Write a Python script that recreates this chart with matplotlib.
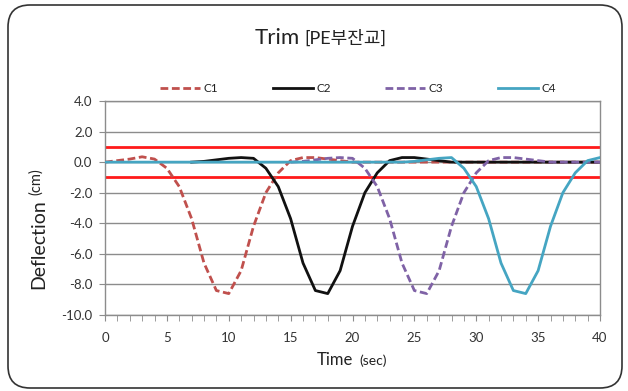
import matplotlib
matplotlib.use("Agg")
import matplotlib.pyplot as plt
from matplotlib.patches import FancyBboxPatch
import numpy as np

plt.rcParams['font.family'] = ['Lato', 'Noto Sans CJK KR', 'DejaVu Sans']

# ---- data ----
t_c1 = list(range(0, 41))
c1 = [0.0, 0.1, 0.2, 0.35, 0.2, -0.4, -1.6, -3.7, -6.6, -8.4, -8.6, -7.1, -4.2, -2.0, -0.7,
      0.1, 0.3, 0.3, 0.2, 0.1, 0.0, 0.0, 0.0, 0.0, 0.0, 0.0, 0.0, 0.0, 0.0, 0.0,
      0.0, 0.0, 0.0, 0.0, 0.0, 0.0, 0.0, 0.0, 0.0, 0.0, 0.0]
t_c2 = list(range(7, 41))
c2 = [0.0, 0.05, 0.15, 0.25, 0.3, 0.25, -0.4, -1.6, -3.7, -6.6, -8.4, -8.6, -7.1, -4.2, -2.0,
      -0.7, 0.1, 0.3, 0.3, 0.2, 0.1, 0.0, 0.0, 0.0, 0.0, 0.0, 0.0, 0.0, 0.0, 0.0,
      0.0, 0.0, 0.0, 0.0]
t_c3 = list(range(15, 41))
c3 = [0.0, 0.05, 0.15, 0.25, 0.3, 0.25, -0.4, -1.6, -3.7, -6.6, -8.4, -8.6, -7.1, -4.2, -2.0,
      -0.7, 0.1, 0.3, 0.3, 0.2, 0.1, 0.0, 0.0, 0.0, 0.0, 0.0]
t_c4 = list(range(0, 41))
c4 = [0.0] * 24 + [0.0, 0.05, 0.15, 0.25, 0.3, -0.4, -1.6, -3.7, -6.6, -8.4, -8.6, -7.1,
                   -4.2, -2.0, -0.7, 0.1, 0.3]
c4 = c4[:41]
limit_upper = 1.0
limit_lower = -1.0
series_names = ['C1', 'C2', 'C3', 'C4']

W, H = 628, 391
fig = plt.figure(figsize=(W / 100, H / 100), dpi=100)

# rounded outer frame
bg = fig.add_axes([0, 0, 1, 1])
bg.set_xlim(0, W)
bg.set_ylim(H, 0)
bg.axis('off')
bg.add_patch(FancyBboxPatch((8, 5), 614, 383, boxstyle="round,pad=0,rounding_size=22",
                            fc='white', ec='#333333', lw=1.2))

L, R, T, B = 105, 600, 101, 315
ax = fig.add_axes([L / W, 1 - B / H, (R - L) / W, (B - T) / H])
ax.set_facecolor('none')
ax.set_xlim(0, 40)
ax.set_ylim(-10, 4)

ax.set_yticks(np.arange(-10, 4.1, 2))
ax.set_yticklabels([f"{v:.1f}" for v in np.arange(-10, 4.1, 2)])
ax.set_xticks(np.arange(0, 41, 5))
ax.set_xticks(np.arange(0, 41, 1), minor=True)
ax.grid(axis='y', color='#8c8c8c', lw=1.0, zorder=0)
for s in ax.spines.values():
    s.set_color('#8c8c8c')
    s.set_linewidth(1.0)
ax.tick_params(axis='both', which='both', direction='out', length=4, color='#8c8c8c',
               labelsize=9.5, labelcolor='#333333')
ax.tick_params(axis='x', pad=8)
ax.tick_params(axis='y', pad=5)

ax.plot([0, 40], [limit_upper, limit_upper], color='#ff1a1a', lw=2.0, zorder=2)
ax.plot([0, 40], [limit_lower, limit_lower], color='#ff1a1a', lw=2.0, zorder=2)

l1, = ax.plot(t_c1, c1, color='#c0504d', lw=2.0, dashes=(2.8, 1.3), zorder=3, label=series_names[0])
l2, = ax.plot(t_c2, c2, color='#111111', lw=2.0, zorder=3, label=series_names[1])
l3, = ax.plot(t_c3, c3, color='#7f62a6', lw=2.0, dashes=(2.8, 1.3), zorder=3, label=series_names[2])
l4, = ax.plot(t_c4, c4, color='#45a5c2', lw=2.0, zorder=4, label=series_names[3])

fig.legend(handles=[l1, l2, l3, l4], loc='center', bbox_to_anchor=(358 / W, 1 - 89 / H),
           ncol=4, frameon=False, fontsize=8.5, handlelength=3.4, handletextpad=0.3,
           columnspacing=4.6, labelcolor='#222222')

# title
t1 = fig.text(255 / W, 1 - 44 / H, 'Trim', fontsize=16, color='#222222', ha='left', va='baseline')
ax.annotate('[PE부잔교]', xy=(1, 0), xycoords=t1, xytext=(3, 3), textcoords='offset points',
            fontsize=13, color='#222222', ha='left', va='baseline', annotation_clip=False)

# x label
t2 = fig.text(317 / W, 1 - 365 / H, 'Time', fontsize=12, color='#222222', ha='left', va='baseline')
ax.annotate('(sec)', xy=(1, 0), xycoords=t2, xytext=(4, 2.5), textcoords='offset points',
            fontsize=10, color='#222222', ha='left', va='baseline', annotation_clip=False)

# y label
t3 = fig.text(39 / W, 1 - 289 / H, 'Deflection', fontsize=14, color='#222222', rotation=90,
              ha='center', va='bottom')
ax.annotate('(cm)', xy=(0.72, 1), xycoords=t3, xytext=(0, 3), textcoords='offset points',
            fontsize=10.5, color='#222222', rotation=90, ha='right', va='bottom', annotation_clip=False)

fig.savefig('out.png', dpi=100)
